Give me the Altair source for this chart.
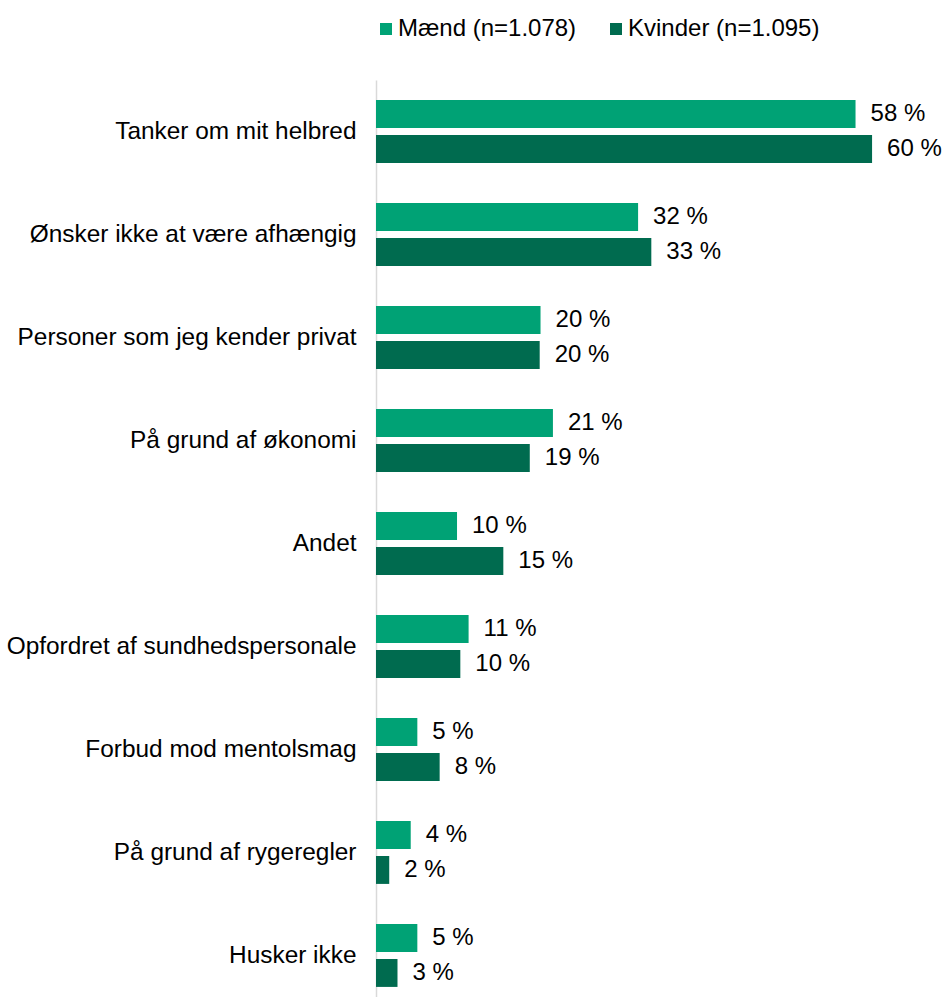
import altair as alt
import pandas as pd

categories = [
    "Tanker om mit helbred",
    "Ønsker ikke at være afhængig",
    "Personer som jeg kender privat",
    "På grund af økonomi",
    "Andet",
    "Opfordret af sundhedspersonale",
    "Forbud mod mentolsmag",
    "På grund af rygeregler",
    "Husker ikke",
]
maend = [58.0, 31.7, 19.9, 21.4, 9.8, 11.2, 5.0, 4.2, 5.0]
kvinder = [60.0, 33.3, 19.8, 18.6, 15.4, 10.2, 7.7, 1.6, 2.6]
series = ["Mænd (n=1.078)", "Kvinder (n=1.095)"]
colors = ["#00A275", "#006B4F"]

rows = []
for c, m, k in zip(categories, maend, kvinder):
    rows.append({"cat": c, "serie": series[0], "v": m})
    rows.append({"cat": c, "serie": series[1], "v": k})
df = pd.DataFrame(rows)

FONT = "Liberation Sans"

y = alt.Y(
    "cat:N",
    sort=categories,
    axis=alt.Axis(
        title=None, ticks=False, labelPadding=20, labelFontSize=24.4, labelFont=FONT,
        labelColor="#000000", domainColor="#d9d9d9", domainWidth=1.5, labelLimit=0,
    ),
    scale=alt.Scale(paddingInner=0.39, paddingOuter=0.195),
)
yoff = alt.YOffset("serie:N", sort=series, scale=alt.Scale(paddingInner=0.2, paddingOuter=0))
x = alt.X("v:Q", scale=alt.Scale(domain=[0, 68.7], nice=False, zero=True), axis=None)

base = alt.Chart(df).encode(y=y, yOffset=yoff, x=x)

bars = base.mark_bar().encode(
    color=alt.Color(
        "serie:N",
        sort=series,
        scale=alt.Scale(domain=series, range=colors),
        legend=alt.Legend(
            title=None, orient="none", legendX=-2, legendY=-63, direction="horizontal",
            symbolType="square", symbolSize=144, labelFontSize=24, labelFont=FONT,
            labelColor="#000000", columnPadding=27, labelOffset=0, symbolStrokeWidth=0,
            labelLimit=0,
        ),
    )
)

text = base.transform_calculate(label="format(datum.v, '.0f') + ' %'").mark_text(
    align="left", baseline="middle", dx=15, fontSize=24, font=FONT, color="#000000"
).encode(text="label:N")

chart = (
    alt.layer(bars, text)
    .properties(
        width=568,
        height=927,
        autosize=alt.AutoSizeParams(type="none"),
        padding={"left": 376, "top": 80, "right": 0, "bottom": 0},
    )
    .configure_view(stroke=None)
)

chart.save("out.html", embed_options={"renderer": "svg", "actions": False})
